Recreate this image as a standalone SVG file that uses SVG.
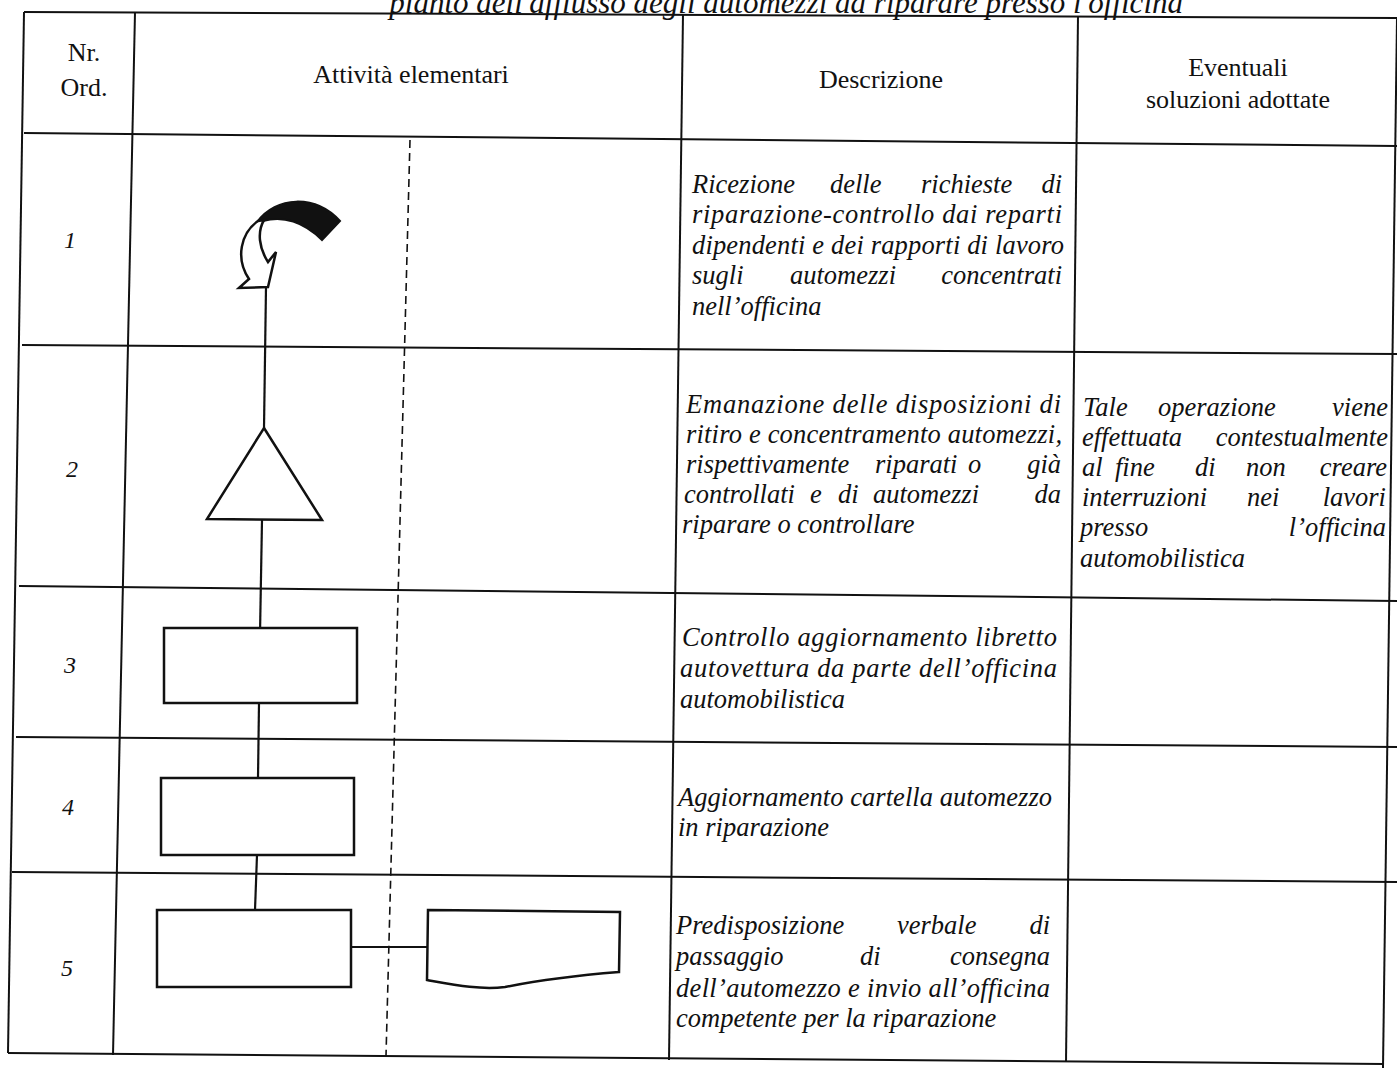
<svg xmlns="http://www.w3.org/2000/svg" width="1397" height="1068" viewBox="0 0 1397 1068">
<style>
.t{stroke:#111;stroke-width:2;fill:none}
.s{stroke:#111;stroke-width:2.5;fill:#fff}
.c{stroke:#111;stroke-width:2.2;fill:none}
.dash{stroke:#111;stroke-width:1.6;stroke-dasharray:8 5;fill:none}
.h{font-family:"Liberation Serif",serif;font-size:26px;fill:#111;text-anchor:middle}
.d{font-family:"Liberation Serif",serif;font-style:italic;font-size:26.5px;fill:#111}
.n{font-family:"Liberation Serif",serif;font-style:italic;font-size:24px;fill:#111;text-anchor:middle}
.ti{font-family:"Liberation Serif",serif;font-style:italic;font-size:31px;fill:#111;text-anchor:end}
</style>
<rect width="1397" height="1068" fill="#fff"/>
<text class="ti" x="1183" y="13">pianto dell'afflusso degli automezzi da riparare presso l'officina</text>
<g id="table">
<line class="t" x1="24" y1="12" x2="1397" y2="18"/>
<line class="t" x1="24" y1="133" x2="1397" y2="146"/>
<line class="t" x1="22" y1="345" x2="1397" y2="354"/>
<line class="t" x1="19" y1="586" x2="1397" y2="601"/>
<line class="t" x1="16" y1="737" x2="1397" y2="747"/>
<line class="t" x1="12" y1="872" x2="1397" y2="882"/>
<line class="t" x1="8" y1="1053" x2="1383" y2="1064"/>
<line class="t" x1="24" y1="12" x2="8" y2="1053"/>
<line class="t" x1="135" y1="12" x2="113" y2="1055"/>
<line class="t" x1="683" y1="14" x2="669" y2="1060"/>
<line class="t" x1="1078" y1="16" x2="1066" y2="1062"/>
<line class="t" x1="1397" y1="18" x2="1383" y2="1068"/>
<line class="dash" x1="410" y1="140" x2="386" y2="1056"/>
</g>
<g id="header">
<text class="h" x="84" y="61">Nr.</text>
<text class="h" x="84" y="96">Ord.</text>
<text class="h" x="411" y="83">Attività elementari</text>
<text class="h" x="881" y="88">Descrizione</text>
<text class="h" x="1238" y="76">Eventuali</text>
<text class="h" x="1238" y="108">soluzioni adottate</text>
</g>
<g id="numbers">
<text class="n" x="70" y="248">1</text>
<text class="n" x="72" y="477">2</text>
<text class="n" x="70" y="673">3</text>
<text class="n" x="68" y="815">4</text>
<text class="n" x="67" y="976">5</text>
</g>
<g id="connectors">
<line class="c" x1="266" y1="287" x2="264" y2="428"/>
<line class="c" x1="262" y1="520" x2="260" y2="634"/>
<line class="c" x1="259" y1="703" x2="258" y2="778"/>
<line class="c" x1="257" y1="855" x2="255" y2="910"/>
<line class="c" x1="351" y1="947" x2="427" y2="947"/>
</g>
<g id="node1">
<path d="M257,222 C276,196 315,194 340,221 L322,240 C304,222 283,215 263,221 Z" fill="#111" stroke="#111" stroke-width="2"/>
<path class="s" d="M258,221 C241,233 235,258 249,279 L239,288 L268,287 L276,252 L268,262 C259,248 257,232 264,220 Z"/>
</g>
<g id="node2">
<path class="s" d="M264,428 L322,520 L207,519 Z"/>
</g>
<g id="node3">
<rect class="s" x="164" y="628" width="193" height="75"/>
</g>
<g id="node4">
<rect class="s" x="161" y="778" width="193" height="77"/>
</g>
<g id="node5">
<rect class="s" x="157" y="910" width="194" height="77"/>
</g>
<g id="node6">
<path class="s" d="M428,910 L620,912 L619,972 C570,976 540,980 505,987 C480,990 455,985 427,980 Z"/>
</g>
<g id="desc1">
<text class="d" y="193"><tspan x="692">Ricezione</tspan><tspan x="830">delle</tspan><tspan x="921">richieste</tspan><tspan x="1062" text-anchor="end">di</tspan></text>
<text class="d" x="692" y="223" textLength="370" lengthAdjust="spacing">riparazione-controllo dai reparti</text>
<text class="d" x="692" y="254" textLength="372" lengthAdjust="spacing">dipendenti e dei rapporti di lavoro</text>
<text class="d" y="284"><tspan x="692">sugli</tspan><tspan x="790">automezzi</tspan><tspan x="1062" text-anchor="end">concentrati</tspan></text>
<text class="d" x="692" y="315">nell’officina</text>
</g>
<g id="desc2">
<text class="d" x="686" y="413" textLength="375" lengthAdjust="spacing">Emanazione delle disposizioni di</text>
<text class="d" x="686" y="443" textLength="376" lengthAdjust="spacing">ritiro e concentramento automezzi,</text>
<text class="d" y="473"><tspan x="686">rispettivamente</tspan><tspan x="875">riparati</tspan><tspan x="968">o</tspan><tspan x="1061" text-anchor="end">già</tspan></text>
<text class="d" y="503"><tspan x="684">controllati</tspan><tspan x="810">e</tspan><tspan x="838">di</tspan><tspan x="873">automezzi</tspan><tspan x="1061" text-anchor="end">da</tspan></text>
<text class="d" x="682" y="533">riparare o controllare</text>
</g>
<g id="sol2">
<text class="d" y="416"><tspan x="1083">Tale</tspan><tspan x="1158">operazione</tspan><tspan x="1388" text-anchor="end">viene</tspan></text>
<text class="d" y="446"><tspan x="1082">effettuata</tspan><tspan x="1388" text-anchor="end">contestualmente</tspan></text>
<text class="d" y="476"><tspan x="1082">al</tspan><tspan x="1115">fine</tspan><tspan x="1195">di</tspan><tspan x="1246">non</tspan><tspan x="1387" text-anchor="end">creare</tspan></text>
<text class="d" y="506"><tspan x="1082">interruzioni</tspan><tspan x="1247">nei</tspan><tspan x="1386" text-anchor="end">lavori</tspan></text>
<text class="d" y="536"><tspan x="1080">presso</tspan><tspan x="1386" text-anchor="end">l’officina</tspan></text>
<text class="d" x="1080" y="567">automobilistica</text>
</g>
<g id="desc3">
<text class="d" x="682" y="646" textLength="375" lengthAdjust="spacing">Controllo aggiornamento libretto</text>
<text class="d" x="680" y="677" textLength="377" lengthAdjust="spacing">autovettura da parte dell’officina</text>
<text class="d" x="680" y="708">automobilistica</text>
</g>
<g id="desc4">
<text class="d" x="678" y="806" textLength="374" lengthAdjust="spacing">Aggiornamento cartella automezzo</text>
<text class="d" x="678" y="836">in riparazione</text>
</g>
<g id="desc5">
<text class="d" y="934"><tspan x="676">Predisposizione</tspan><tspan x="897">verbale</tspan><tspan x="1050" text-anchor="end">di</tspan></text>
<text class="d" y="965"><tspan x="676">passaggio</tspan><tspan x="860">di</tspan><tspan x="1050" text-anchor="end">consegna</tspan></text>
<text class="d" x="676" y="997" textLength="374" lengthAdjust="spacing">dell’automezzo e invio all’officina</text>
<text class="d" x="676" y="1027">competente per la riparazione</text>
</g>
</svg>
